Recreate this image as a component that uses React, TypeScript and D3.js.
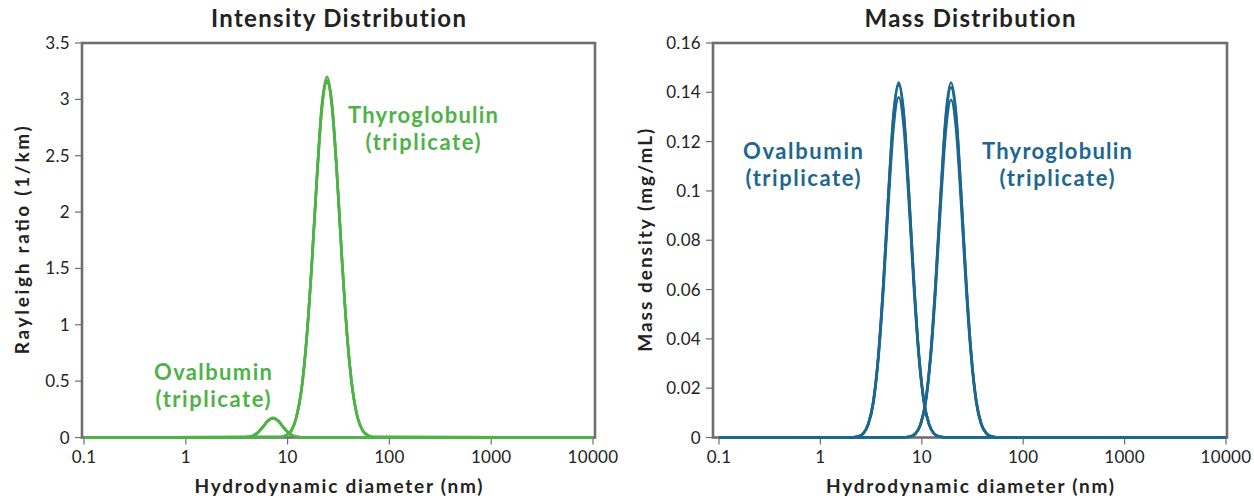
import React from "react";
import * as d3 from "d3";

// ---------- Data ----------
const xTicks = [0.1, 1, 10, 100, 1000, 10000];
const xTickLabels = ["0.1", "1", "10", "100", "1000", "10000"];
const intYTicks = [0, 0.5, 1, 1.5, 2, 2.5, 3, 3.5];
const intYTickLabels = ["0", "0.5", "1", "1.5", "2", "2.5", "3", "3.5"];
const massYTicks = [0, 0.02, 0.04, 0.06, 0.08, 0.1, 0.12, 0.14, 0.16];
const massYTickLabels = ["0", "0.02", "0.04", "0.06", "0.08", "0.1", "0.12", "0.14", "0.16"];

// Intensity distribution – Thyroglobulin (triplicate)
const intThyroD = [0.1, 8.6, 9.7, 10.9, 12.2, 13.7, 15.4, 17.3, 19.4, 21.7, 24.4, 27.4, 30.7, 34.4, 38.6, 43.4, 48.6, 54.6, 61.2, 68.7, 10000];
const intThyroRep1 = [0, 0.005, 0.019, 0.063, 0.18, 0.43, 0.89, 1.56, 2.32, 2.95, 3.2, 2.95, 2.32, 1.56, 0.89, 0.43, 0.18, 0.063, 0.019, 0.005, 0];
const intThyroRep2 = [0, 0.005, 0.019, 0.063, 0.18, 0.43, 0.88, 1.54, 2.3, 2.93, 3.17, 2.93, 2.3, 1.54, 0.88, 0.43, 0.18, 0.063, 0.019, 0.005, 0];
const intThyroRep3 = [0, 0.005, 0.019, 0.062, 0.18, 0.42, 0.88, 1.53, 2.29, 2.91, 3.15, 2.91, 2.29, 1.53, 0.88, 0.42, 0.18, 0.062, 0.019, 0.005, 0];

// Intensity distribution – Ovalbumin (triplicate)
const intOvalD = [0.1, 3.6, 4.04, 4.54, 5.09, 5.71, 6.41, 7.19, 8.07, 9.06, 10.16, 11.4, 12.8, 14.4, 10000];
const intOvalRep1 = [0, 0.0007, 0.0037, 0.0149, 0.0438, 0.0945, 0.15, 0.175, 0.15, 0.0945, 0.0438, 0.0149, 0.0037, 0.0007, 0];
const intOvalRep2 = [0, 0.0007, 0.0036, 0.0146, 0.043, 0.0929, 0.1474, 0.172, 0.1474, 0.0929, 0.043, 0.0146, 0.0036, 0.0007, 0];
const intOvalRep3 = [0, 0.0007, 0.0036, 0.0145, 0.0425, 0.0918, 0.1457, 0.17, 0.1457, 0.0918, 0.0425, 0.0145, 0.0036, 0.0007, 0];

// Mass distribution – Ovalbumin (triplicate)
const massOvalD = [0.1, 2.1, 2.35, 2.64, 2.96, 3.33, 3.73, 4.19, 4.7, 5.27, 5.92, 6.64, 7.45, 8.36, 9.38, 10.5, 11.8, 13.2, 14.9, 16.7, 10000];
const massOvalRep1 = [0, 0.0001, 0.0004, 0.0016, 0.0054, 0.0147, 0.0334, 0.0634, 0.0999, 0.1315, 0.144, 0.1315, 0.0999, 0.0634, 0.0334, 0.0147, 0.0054, 0.0016, 0.0004, 0.0001, 0];
const massOvalRep2 = [0, 0.0001, 0.0004, 0.0016, 0.0053, 0.0146, 0.0332, 0.0629, 0.0992, 0.1306, 0.143, 0.1306, 0.0992, 0.0629, 0.0332, 0.0146, 0.0053, 0.0016, 0.0004, 0.0001, 0];
const massOvalRep3 = [0, 0.0001, 0.0004, 0.0016, 0.0052, 0.0141, 0.032, 0.0607, 0.0958, 0.126, 0.138, 0.126, 0.0958, 0.0607, 0.032, 0.0141, 0.0052, 0.0016, 0.0004, 0.0001, 0];

// Mass distribution – Thyroglobulin (triplicate)
const massThyroD = [0.1, 6.89, 7.72, 8.66, 9.72, 10.9, 12.2, 13.7, 15.4, 17.3, 19.4, 21.8, 24.4, 27.4, 30.8, 34.5, 38.7, 43.5, 48.8, 54.7, 10000];
const massThyroRep1 = [0, 0.0001, 0.0004, 0.0016, 0.0054, 0.0147, 0.0334, 0.0634, 0.0999, 0.1315, 0.144, 0.1315, 0.0999, 0.0634, 0.0334, 0.0147, 0.0054, 0.0016, 0.0004, 0.0001, 0];
const massThyroRep2 = [0, 0.0001, 0.0004, 0.0016, 0.0053, 0.0145, 0.033, 0.0625, 0.0985, 0.1296, 0.142, 0.1296, 0.0985, 0.0625, 0.033, 0.0145, 0.0053, 0.0016, 0.0004, 0.0001, 0];
const massThyroRep3 = [0, 0.0001, 0.0004, 0.0016, 0.0051, 0.014, 0.0318, 0.0603, 0.0951, 0.125, 0.137, 0.125, 0.0951, 0.0603, 0.0318, 0.014, 0.0051, 0.0016, 0.0004, 0.0001, 0];

// ---------- Styles ----------
const GREEN = "#4fb247";
const BLUE = "#1c6690";
const FRAME = "#6e6e6e";
const TEXT = "#222222";
const FONT = "Lato, 'Open Sans', sans-serif";

type Series = { d: number[]; v: number[] };
type Label = { x: number; y: number; lines: string[]; widths: number[] };

function Panel(props: {
  left: number; right: number; top: number; bottom: number;
  x0: number; x1: number;
  yMax: number; yTicks: number[]; yTickLabels: string[];
  title: string; titleW: number; yLabel: string; yLabelW: number; color: string;
  series: Series[];
  labels: Label[];
  yLabelX: number;
}) {
  const { left, right, top, bottom, x0, x1, yMax, yTicks, yTickLabels, title, titleW, yLabel, yLabelW, color, series, labels, yLabelX } = props;
  const x = d3.scaleLog().domain([0.1, 10000]).range([x0, x1]);
  const y = d3.scaleLinear().domain([0, yMax]).range([bottom, top]);
  const cx = (left + right) / 2;
  const line = d3
    .line<[number, number]>()
    .x((p) => x(p[0]))
    .y((p) => y(p[1]))
    .curve(d3.curveMonotoneX);
  return (
    <g>
      <text x={cx} y={27} textAnchor="middle" fontFamily={FONT} fontWeight={700} fontSize={24} fill={TEXT}
        textLength={titleW} lengthAdjust="spacing" style={{ fontVariantLigatures: "none" }}>
        {title}
      </text>
      {/* y ticks */}
      {yTicks.map((t, i) => (
        <g key={"y" + i}>
          <line x1={left - 7} x2={left} y1={y(t)} y2={y(t)} stroke={FRAME} strokeWidth={1.2} />
          <text x={left - 12} y={y(t) + 6} textAnchor="end" fontFamily={FONT} fontSize={17} fill={TEXT} letterSpacing={0.3}>
            {yTickLabels[i]}
          </text>
        </g>
      ))}
      {/* x ticks */}
      {xTicks.map((t, i) => (
        <g key={"x" + i}>
          <line x1={x(t)} x2={x(t)} y1={bottom} y2={bottom + 7} stroke={FRAME} strokeWidth={1.2} />
          <text x={x(t)} y={bottom + 25} textAnchor="middle" fontFamily={FONT} fontSize={17} fill={TEXT} letterSpacing={0.3}>
            {xTickLabels[i]}
          </text>
        </g>
      ))}
      <rect x={left} y={top} width={right - left} height={bottom - top} fill="none" stroke={FRAME} strokeWidth={2.6} />
      {series.map((s, i) => (
        <path
          key={"s" + i}
          d={line(s.d.map((dv, j) => [dv, s.v[j]] as [number, number])) || ""}
          fill="none"
          stroke={color}
          strokeWidth={2.6}
        />
      ))}
      {labels.map((l, i) => (
        <g key={"l" + i}>
          {l.lines.map((ln, j) => (
            <text key={j} x={l.x} y={l.y + j * 27} textAnchor="middle" fontFamily={FONT} fontWeight={700} fontSize={22}
              fill={color} textLength={l.widths[j]} lengthAdjust="spacing">
              {ln}
            </text>
          ))}
        </g>
      ))}
      <text
        transform={`translate(${yLabelX},${(top + bottom) / 2}) rotate(-90)`}
        textAnchor="middle"
        fontFamily={FONT}
        fontWeight={700}
        fontSize={19}
        fill={TEXT}
        textLength={yLabelW}
        lengthAdjust="spacing"
      >
        {yLabel}
      </text>
      <text x={cx} y={493} textAnchor="middle" fontFamily={FONT} fontWeight={700} fontSize={19} fill={TEXT}
        textLength={288} lengthAdjust="spacing">
        Hydrodynamic diameter (nm)
      </text>
    </g>
  );
}

export default function App() {
  return (
    <svg width={1254} height={499} style={{ position: "absolute", left: 0, top: 0, background: "#fff" }}>
      <Panel
        left={82} right={595} top={43} bottom={437.5}
        x0={84} x1={593}
        yMax={3.5} yTicks={intYTicks} yTickLabels={intYTickLabels}
        title="Intensity Distribution" titleW={255} yLabel="Rayleigh ratio (1/km)" yLabelW={228} color={GREEN}
        yLabelX={29}
        series={[
          { d: intOvalD, v: intOvalRep1 },
          { d: intOvalD, v: intOvalRep2 },
          { d: intOvalD, v: intOvalRep3 },
          { d: intThyroD, v: intThyroRep1 },
          { d: intThyroD, v: intThyroRep2 },
          { d: intThyroD, v: intThyroRep3 },
        ]}
        labels={[
          { x: 423, y: 123, lines: ["Thyroglobulin", "(triplicate)"], widths: [150, 115] },
          { x: 213, y: 380, lines: ["Ovalbumin", "(triplicate)"], widths: [118, 115] },
        ]}
      />
      <Panel
        left={713} right={1227} top={43} bottom={437.5}
        x0={719} x1={1226}
        yMax={0.16} yTicks={massYTicks} yTickLabels={massYTickLabels}
        title="Mass Distribution" titleW={211} yLabel="Mass density (mg/mL)" yLabelW={223} color={BLUE}
        yLabelX={652}
        series={[
          { d: massOvalD, v: massOvalRep1 },
          { d: massOvalD, v: massOvalRep2 },
          { d: massOvalD, v: massOvalRep3 },
          { d: massThyroD, v: massThyroRep1 },
          { d: massThyroD, v: massThyroRep2 },
          { d: massThyroD, v: massThyroRep3 },
        ]}
        labels={[
          { x: 803, y: 159, lines: ["Ovalbumin", "(triplicate)"], widths: [120, 115] },
          { x: 1057, y: 159, lines: ["Thyroglobulin", "(triplicate)"], widths: [150, 115] },
        ]}
      />
    </svg>
  );
}
